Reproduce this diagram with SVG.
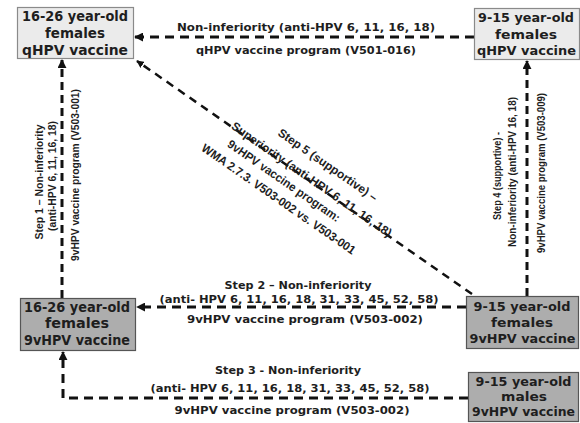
<svg xmlns="http://www.w3.org/2000/svg" width="580" height="423" viewBox="0 0 580 423">
  <defs>
    <marker id="arrow" viewBox="0 0 10 10" refX="9" refY="5" markerWidth="3" markerHeight="3" orient="auto-start-reverse" markerUnits="strokeWidth">
      <path d="M0,0 L10,5 L0,10 z" fill="#111"/>
    </marker>
    <style>
      .box-light { fill: #ebebeb; stroke: #8a8a8a; stroke-width: 1.2; }
      .box-dark { fill: #adadad; stroke: #555; stroke-width: 1.2; }
      .node-text { font-family: "DejaVu Sans", Verdana, sans-serif; font-weight: bold; font-size: 13.5px; fill: #1e1e1e; text-anchor: middle; }
      .node-text-sm { font-family: "DejaVu Sans", Verdana, sans-serif; font-weight: bold; font-size: 12.5px; fill: #1e1e1e; text-anchor: middle; }
      .edge { fill: none; stroke: #111; stroke-width: 3; stroke-dasharray: 9 6; }
      .edge-v { fill: none; stroke: #111; stroke-width: 3; stroke-dasharray: 8 5; }
      .edge-diag { fill: none; stroke: #111; stroke-width: 2.5; stroke-dasharray: 8 6; }
      .lbl { font-family: "DejaVu Sans", Verdana, sans-serif; font-weight: bold; font-size: 10.5px; fill: #1e1e1e; text-anchor: middle; }
      .lbl-narrow { font-family: "Liberation Sans", Arial, sans-serif; font-weight: bold; font-size: 11px; fill: #1e1e1e; text-anchor: middle; }
      .lbl-diag { font-family: "Liberation Sans", Arial, sans-serif; font-weight: bold; font-size: 12px; fill: #1e1e1e; text-anchor: middle; }
    </style>
  </defs>

  <rect width="580" height="423" fill="#ffffff"/>

  <!-- connectors -->
  <g id="connectors">
    <!-- top: 9-15 qHPV -> 16-26 qHPV -->
    <line class="edge" x1="474" y1="37" x2="135" y2="37" marker-end="url(#arrow)"/>
    <!-- step 1: 16-26 9vHPV -> 16-26 qHPV -->
    <line class="edge-v" x1="62" y1="298" x2="62" y2="60" marker-end="url(#arrow)"/>
    <!-- step 4: 9-15 9vHPV -> 9-15 qHPV -->
    <line class="edge-v" x1="527" y1="296" x2="527" y2="61" marker-end="url(#arrow)"/>
    <!-- step 2: 9-15 9vHPV females -> 16-26 9vHPV -->
    <line class="edge" x1="466" y1="307" x2="137" y2="307" marker-end="url(#arrow)"/>
    <!-- step 3: 9-15 males -> 16-26 9vHPV (elbow) -->
    <polyline class="edge" points="468,398 63,398 63,352" marker-end="url(#arrow)"/>
    <!-- step 5: 9-15 9vHPV -> 16-26 qHPV (diagonal) -->
    <line class="edge-diag" x1="472" y1="294" x2="137" y2="61" marker-end="url(#arrow)"/>
  </g>

  <!-- connector labels -->
  <g id="labels">
    <text class="lbl" x="306" y="31" textLength="258" lengthAdjust="spacingAndGlyphs">Non-inferiority (anti-HPV 6, 11, 16, 18)</text>
    <text class="lbl" x="306" y="54" textLength="220" lengthAdjust="spacingAndGlyphs">qHPV vaccine program (V501-016)</text>

    <text class="lbl-narrow" transform="translate(43,182) rotate(-90)" textLength="115" lengthAdjust="spacingAndGlyphs">Step 1 – Non-inferiority</text>
    <text class="lbl-narrow" transform="translate(56,176) rotate(-90)" textLength="110" lengthAdjust="spacingAndGlyphs">(anti-HPV 6, 11, 16, 18)</text>
    <text class="lbl-narrow" transform="translate(79,175) rotate(-90)" textLength="172" lengthAdjust="spacingAndGlyphs">9vHPV vaccine program (V503-001)</text>

    <text class="lbl-narrow" transform="translate(501,176) rotate(-90)" textLength="88" lengthAdjust="spacingAndGlyphs">Step 4 (supportive) -</text>
    <text class="lbl-narrow" transform="translate(516,172) rotate(-90)" textLength="150" lengthAdjust="spacingAndGlyphs">Non-inferiority (anti-HPV 16, 18)</text>
    <text class="lbl-narrow" transform="translate(545,173) rotate(-90)" textLength="160" lengthAdjust="spacingAndGlyphs">9vHPV vaccine program (V503-009)</text>

    <text class="lbl" x="298" y="289" textLength="147" lengthAdjust="spacingAndGlyphs">Step 2 – Non-inferiority</text>
    <text class="lbl" x="299" y="303" textLength="279" lengthAdjust="spacingAndGlyphs">(anti- HPV 6, 11, 16, 18, 31, 33, 45, 52, 58)</text>
    <text class="lbl" x="305" y="323" textLength="236" lengthAdjust="spacingAndGlyphs">9vHPV vaccine program (V503-002)</text>

    <text class="lbl" x="288" y="374" textLength="146" lengthAdjust="spacingAndGlyphs">Step 3 - Non-inferiority</text>
    <text class="lbl" x="290" y="392" textLength="279" lengthAdjust="spacingAndGlyphs">(anti- HPV 6, 11, 16, 18, 31, 33, 45, 52, 58)</text>
    <text class="lbl" x="292" y="414" textLength="235" lengthAdjust="spacingAndGlyphs">9vHPV vaccine program (V503-002)</text>

    <g transform="translate(137,61) rotate(34.7)">
      <text class="lbl-diag" x="216" y="-19" textLength="118" lengthAdjust="spacingAndGlyphs">Step 5 (supportive) –</text>
      <text class="lbl-diag" x="211" y="2" textLength="192" lengthAdjust="spacingAndGlyphs">Superiority (anti-HPV 6, 11, 16, 18)</text>
      <text class="lbl-diag" x="189" y="19" textLength="134" lengthAdjust="spacingAndGlyphs">9vHPV vaccine program:</text>
      <text class="lbl-diag" x="195" y="37" textLength="184" lengthAdjust="spacingAndGlyphs">WMA 2.7.3. V503-002 vs. V503-001</text>
    </g>
  </g>

  <!-- nodes -->
  <g id="node-f1626-q">
    <rect class="box-light" x="17.5" y="7.5" width="116" height="51"/>
    <text class="node-text" x="75" y="21" textLength="106" lengthAdjust="spacingAndGlyphs">16-26 year-old</text>
    <text class="node-text" x="75" y="38" textLength="60" lengthAdjust="spacingAndGlyphs">females</text>
    <text class="node-text" x="75" y="55" textLength="106" lengthAdjust="spacingAndGlyphs">qHPV vaccine</text>
  </g>
  <g id="node-f915-q">
    <rect class="box-light" x="474.5" y="8.5" width="105" height="51"/>
    <text class="node-text-sm" x="526" y="22" textLength="96" lengthAdjust="spacingAndGlyphs">9-15 year-old</text>
    <text class="node-text-sm" x="526" y="39" textLength="62" lengthAdjust="spacingAndGlyphs">females</text>
    <text class="node-text-sm" x="526.5" y="55" textLength="99" lengthAdjust="spacingAndGlyphs">qHPV vaccine</text>
  </g>
  <g id="node-f1626-9v">
    <rect class="box-dark" x="20.5" y="298.5" width="115" height="52"/>
    <text class="node-text" x="77" y="312" textLength="106" lengthAdjust="spacingAndGlyphs">16-26 year-old</text>
    <text class="node-text" x="77" y="328" textLength="64" lengthAdjust="spacingAndGlyphs">females</text>
    <text class="node-text" x="77" y="345" textLength="106" lengthAdjust="spacingAndGlyphs">9vHPV vaccine</text>
  </g>
  <g id="node-f915-9v">
    <rect class="box-dark" x="466.5" y="296.5" width="112" height="52"/>
    <text class="node-text-sm" x="522" y="311" textLength="97" lengthAdjust="spacingAndGlyphs">9-15 year-old</text>
    <text class="node-text-sm" x="522" y="327" textLength="62" lengthAdjust="spacingAndGlyphs">females</text>
    <text class="node-text-sm" x="522.5" y="343" textLength="106" lengthAdjust="spacingAndGlyphs">9vHPV vaccine</text>
  </g>
  <g id="node-m915-9v">
    <rect class="box-dark" x="468.5" y="372.5" width="110" height="49"/>
    <text class="node-text-sm" x="523.5" y="386" textLength="96" lengthAdjust="spacingAndGlyphs">9-15 year-old</text>
    <text class="node-text-sm" x="524" y="401" textLength="46" lengthAdjust="spacingAndGlyphs">males</text>
    <text class="node-text-sm" x="523.5" y="416" textLength="103" lengthAdjust="spacingAndGlyphs">9vHPV vaccine</text>
  </g>
</svg>
